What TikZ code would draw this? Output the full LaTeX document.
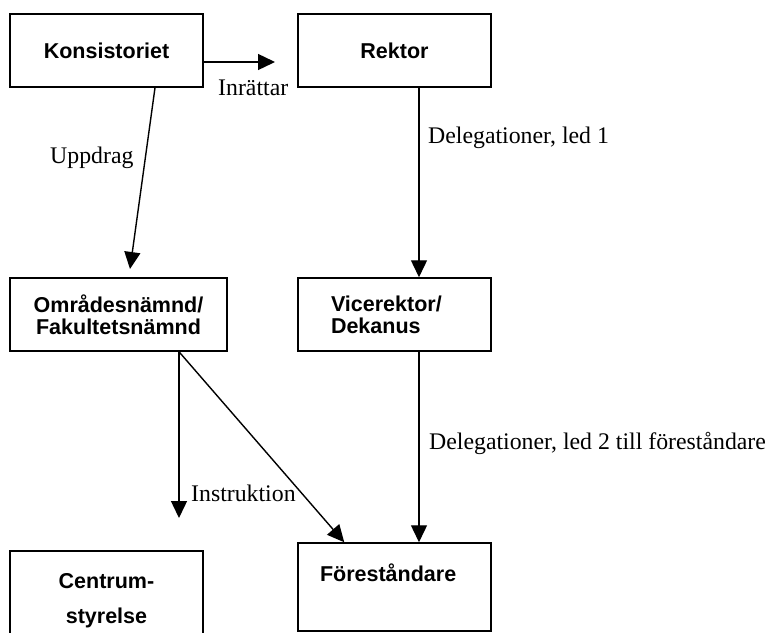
\documentclass[tikz,border=0pt]{standalone}
\usepackage{fontspec}
\setmainfont{Liberation Serif}
\setsansfont{Liberation Sans}
\usetikzlibrary{arrows.meta,positioning}
\tikzstyle{box}=[rectangle,draw=black,line width=1.5pt,minimum width=193pt,
  minimum height=73pt,inner sep=0pt,align=center,
  font=\sffamily\bfseries\fontsize{21.5}{22}\selectfont]
\tikzstyle{lbl}=[inner sep=0pt,anchor=west,font=\fontsize{23.8}{26}\selectfont]
\tikzstyle{arr}=[-{Triangle[length=17pt,width=16pt]},line width=1.4pt]

\begin{document}
\begin{tikzpicture}[x=1pt,y=-1pt]
    \clip (0,0) rectangle (771,632);
    \node [style=box] (kons) at (106.5,50.5) {Konsistoriet};
    \node [style=box] (rektor) at (394.5,50.5) {Rektor};
    \node [style=box,minimum width=217pt] (omr) at (118.5,314.5) {Områdesnämnd/\\Fakultetsnämnd};
    \node [style=box,text width=127pt,inner xsep=33pt,align=left] (vice) at (394.5,314.5) {Vicerektor/\\Dekanus};
    \node [style=box,minimum height=88pt,text depth=28pt,text width=149pt,inner xsep=22pt,align=left] (forest) at (394.5,587) {Föreståndare};
    \node [style=box,minimum height=100pt] (centrum) at (106.5,601) {Centrum-\\[13pt]styrelse};
    \coordinate (inr) at (275,62);
    \coordinate (upp) at (130,269);
    \coordinate (instr) at (179,518);
    \draw [style=arr] ([yshift=-11.5pt]kons.east) to (inr);
    \draw [style=arr] ([xshift=48.5pt]kons.south) to (upp);
    \draw [style=arr] ([xshift=24.5pt]rektor.south) to ([xshift=24.5pt]vice.north);
    \draw [style=arr] ([xshift=24.5pt]vice.south) to ([xshift=24.5pt]forest.north);
    \draw [style=arr] ([xshift=60.5pt]omr.south) to (instr);
    \draw [style=arr] ([xshift=60.5pt]omr.south) to ([xshift=47pt]forest.north west);
    \node [style=lbl] (linr) at (218,88) {Inrättar};
    \node [style=lbl] (lupp) at (50,158) {Uppdrag};
    \node [style=lbl] (lled1) at (428,138) {Delegationer, led 1};
    \node [style=lbl] (linstr) at (191,493) {Instruktion};
    \node [style=lbl] (lled2) at (429,443) {Delegationer, led 2 till föreståndare};
  \end{tikzpicture}
\end{document}
